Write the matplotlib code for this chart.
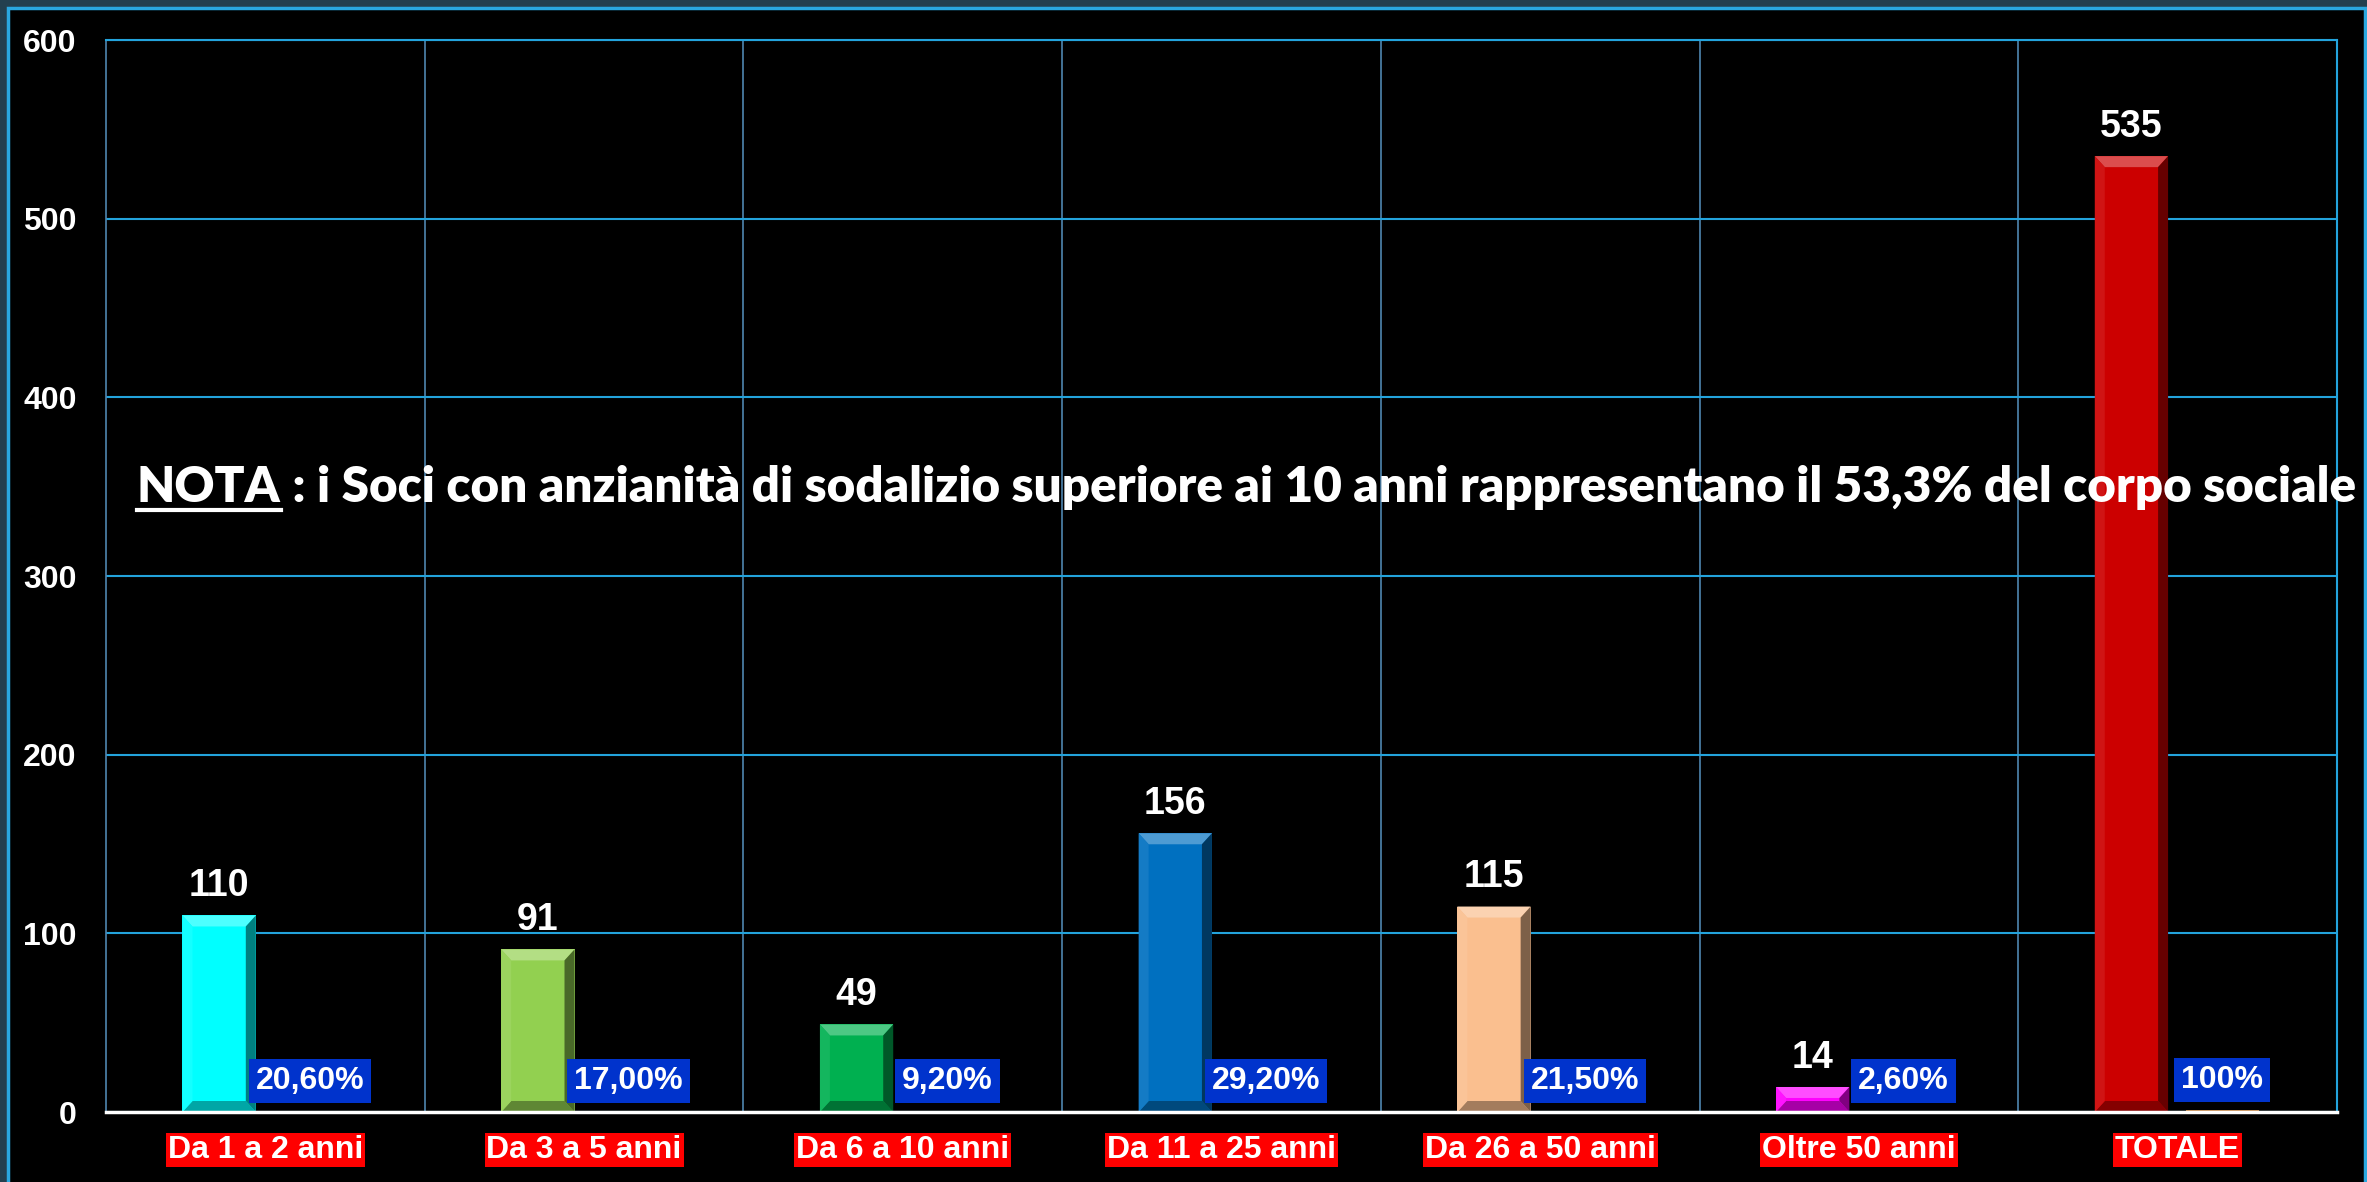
import matplotlib
matplotlib.use('Agg')
import matplotlib.pyplot as plt
import matplotlib.colors as mcolors
from matplotlib.patches import Polygon, Rectangle
from matplotlib.lines import Line2D
import matplotlib.transforms as mtransforms
import numpy as np

# dati
categorie = ['Da 1 a 2 anni', 'Da 3 a 5 anni', 'Da 6 a 10 anni', 'Da 11 a 25 anni',
             'Da 26 a 50 anni', 'Oltre 50 anni', 'TOTALE']
soci = [110, 91, 49, 156, 115, 14, 535]
quote = [0.206, 0.170, 0.092, 0.292, 0.215, 0.026, 1.0]
etichette_pct = ['20,60%', '17,00%', '9,20%', '29,20%', '21,50%', '2,60%', '100%']
colori = ['#00FFFF', '#92D050', '#00B050', '#0070C0', '#FABF8F', '#FF00FF', '#CC0000']
tick_y = [0, 100, 200, 300, 400, 500, 600]
nota_titolo = 'NOTA'
nota_testo = ' : i Soci con anzianità di sodalizio superiore ai 10 anni rappresentano il 53,3% del corpo sociale'

plt.rcParams['font.family'] = ['Liberation Sans', 'DejaVu Sans']
plt.rcParams['font.weight'] = 'bold'

W, H = 2367, 1182
fig = plt.figure(figsize=(W / 100, H / 100), dpi=100, facecolor='#23404f')

# cornice nera con bordo azzurro
fig.patches.append(Rectangle((8 / W, -0.01), (2365 - 8) / W, 1.01 - 8 / H,
                             transform=fig.transFigure, facecolor='black',
                             edgecolor='#2AA8E0', linewidth=2.5, zorder=-5))

ax = fig.add_axes([106 / W, 1 - 1112 / H, (2337 - 106) / W, (1112 - 40) / H])
ax.set_facecolor('black')
ax.set_xlim(-0.5, 6.5)
ax.set_ylim(0, 600)

x = np.arange(len(categorie))
larg = 0.23
barre = ax.bar(x - 0.145, soci, width=larg, color=colori, zorder=3)
barre2 = ax.bar(x + 0.14, quote, width=larg, color='#C08040', zorder=3)


def shade(c, f):
    rgb = np.array(mcolors.to_rgb(c))
    if f > 0:
        return tuple(rgb + (1 - rgb) * f)
    return tuple(rgb * (1 + f))


# effetto smussato sulle barre
bx = 10 / 318.7
by_px = 11
for b, c in zip(barre, colori):
    x0, w, h = b.get_x(), b.get_width(), b.get_height()
    x1 = x0 + w
    by = min(by_px / 1.787, h / 2)
    facce = [
        ([(x0, h), (x1, h), (x1 - bx, h - by), (x0 + bx, h - by)], 0.3),
        ([(x0, 0), (x1, 0), (x1 - bx, by), (x0 + bx, by)], -0.35),
        ([(x0, 0), (x0, h), (x0 + bx, h - by), (x0 + bx, by)], 0.08),
        ([(x1, 0), (x1, h), (x1 - bx, h - by), (x1 - bx, by)], -0.5),
    ]
    for pts, f in facce:
        ax.add_patch(Polygon(pts, closed=True, facecolor=shade(c, f),
                             edgecolor='none', zorder=4))

# etichette valori
for b, v in zip(barre, soci):
    ax.annotate(str(v), (b.get_x() + b.get_width() / 2, v), xytext=(0, 14),
                textcoords='offset points', ha='center', va='baseline',
                fontsize=27, color='white', fontweight='bold', zorder=6)

# etichette percentuali
for b, q, lbl in zip(barre2, quote, etichette_pct):
    ax.annotate(lbl, (b.get_x() + b.get_width() / 2, q), xytext=(0, 22),
                textcoords='offset points', ha='center', va='center',
                fontsize=23, color='white', fontweight='bold', zorder=6,
                bbox=dict(boxstyle='square,pad=0.22', fc='#0033CC', ec='none'))

# etichette categorie
trans = mtransforms.blended_transform_factory(ax.transData, ax.transAxes)
for xi, cat in zip(x, categorie):
    ax.text(xi, -38 / 1072, cat, transform=trans, ha='center', va='center',
            fontsize=23, color='white', fontweight='bold', clip_on=False,
            bbox=dict(boxstyle='square,pad=0.06', fc='#FF0000', ec='none'))

# griglia
ax.set_yticks(tick_y)
ax.set_xticks(x)
ax.set_xticklabels([])
ax.set_xticks(np.arange(0.5, 6, 1), minor=True)
ax.yaxis.grid(True, color='#23A3DC', lw=1.5)
ax.xaxis.grid(True, which='minor', color='#4F86B0', lw=1.2)
ax.xaxis.grid(False, which='major')
ax.set_axisbelow(True)
ax.tick_params(axis='both', which='both', length=0)
ax.tick_params(axis='y', labelsize=23, labelcolor='white', pad=21)
for lbl in ax.get_yticklabels():
    lbl.set_fontweight('bold')

ax.spines['left'].set_color('#4F86B0')
ax.spines['left'].set_linewidth(1.2)
ax.spines['top'].set_color('#23A3DC')
ax.spines['top'].set_linewidth(1.5)
ax.spines['right'].set_color('#23A3DC')
ax.spines['right'].set_linewidth(1.5)
ax.spines['bottom'].set_color('white')
ax.spines['bottom'].set_linewidth(2.5)
ax.spines['bottom'].set_zorder(5)

# nota: dimensione adattata alla larghezza del riferimento
fam_nota = ['Lato', 'DejaVu Sans']
peso_nota = 'heavy'
y_base = 1 - 502 / H
r = fig.canvas.get_renderer()
prova = fig.text(0, 0, nota_titolo + nota_testo, fontsize=35, family=fam_nota,
                 weight=peso_nota)
fs = 35 * 2218 / prova.get_window_extent(r).width
prova.remove()

t1 = fig.text(137 / W, y_base, nota_titolo, fontsize=fs, family=fam_nota,
              weight=peso_nota, color='white', va='baseline', ha='left', zorder=10)
e1 = t1.get_window_extent(r)
fig.text(e1.x1 / W, y_base, nota_testo, fontsize=fs, family=fam_nota,
         weight=peso_nota, color='white', va='baseline', ha='left', zorder=10)
fig.add_artist(Line2D([e1.x0 / W, e1.x1 / W], [(H - 510) / H] * 2,
                      transform=fig.transFigure, color='white', lw=3, zorder=10))

fig.savefig('out.png', dpi=100, facecolor=fig.get_facecolor())
